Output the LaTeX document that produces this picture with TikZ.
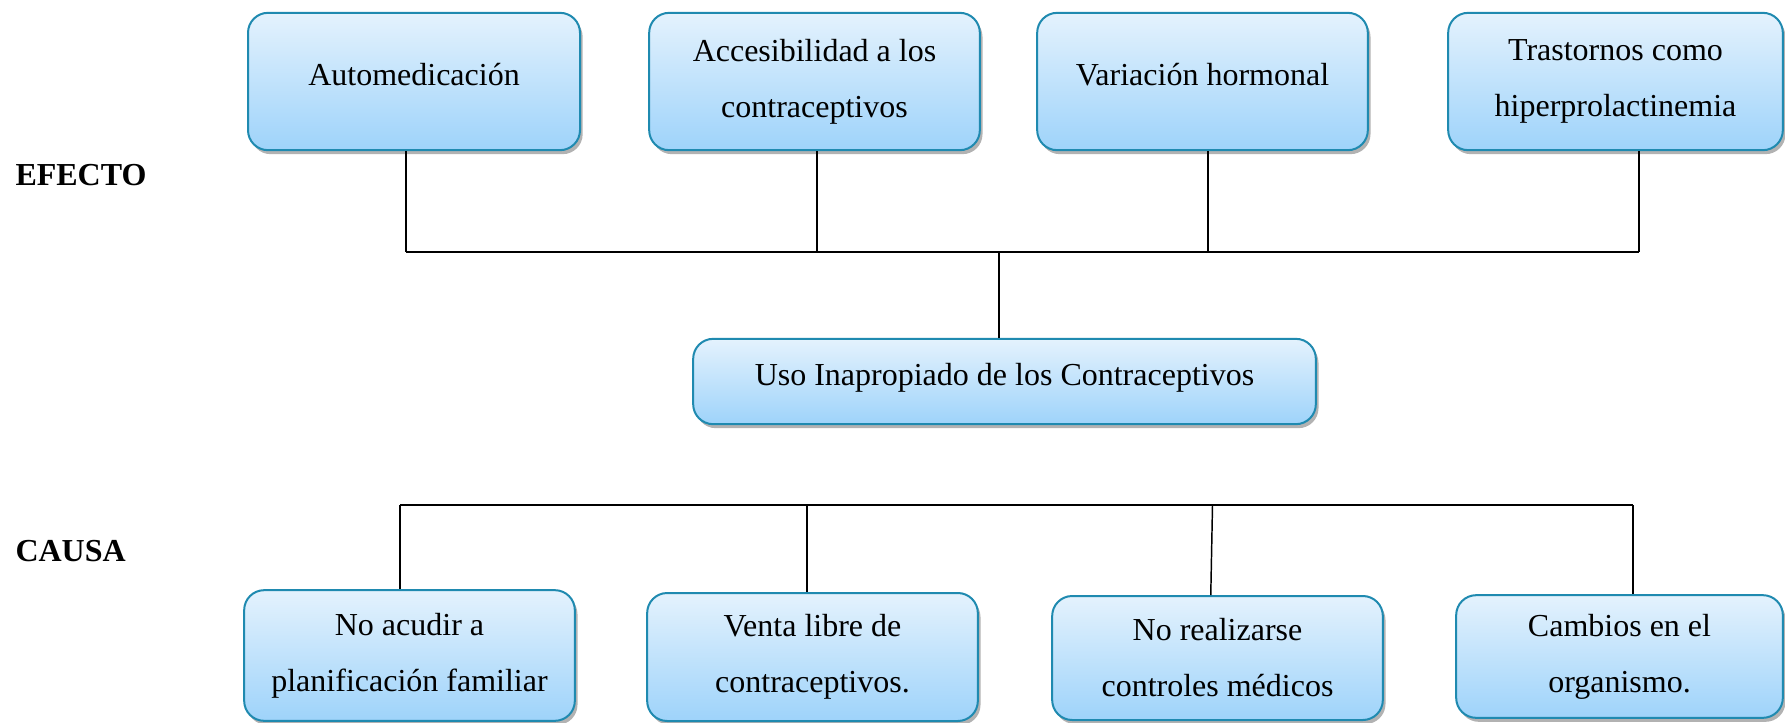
\documentclass[tikz,border=0pt]{standalone}
\usepackage{fontspec}
\setmainfont{Liberation Serif}
\usetikzlibrary{shadows}

\definecolor{boxline}{RGB}{31,138,176}
\definecolor{boxtop}{RGB}{228,242,253}
\definecolor{boxbottom}{RGB}{158,211,250}

\tikzset{every picture/.style={line width=0.75pt},
  causebox/.style={draw=boxline, line width=1.5pt, rounded corners=15pt,
    top color=boxtop, bottom color=boxbottom, align=center,
    font=\fontsize{24}{42}\selectfont, inner sep=0pt,
    drop shadow={shadow xshift=2pt, shadow yshift=-3pt, opacity=0.3, fill=black}},
  oneline/.style={text depth=11pt},
  branch/.style={line width=1.1pt},
  sidelabel/.style={anchor=base west, inner sep=0pt, font=\fontsize{24}{28}\selectfont\bfseries}}

\begin{document}
\begin{tikzpicture}[x=0.75pt,y=0.75pt,yscale=-1,xscale=1]
\useasboundingbox (0,0) rectangle (1785,722);

%Shape: Rounded Rect [efecto]
\node [causebox, oneline, minimum width=249pt, minimum height=103pt] (ef1) at (414,81.5) {Automedicación};
\node [causebox, minimum width=248pt, minimum height=103pt] (ef2) at (814.5,81.5) {Accesibilidad a los\\contraceptivos};
\node [causebox, oneline, minimum width=248pt, minimum height=103pt] (ef3) at (1202.5,81.5) {Variación hormonal};
\node [causebox, minimum width=251pt, minimum height=103pt] (ef4) at (1615.5,81.5) {Trastornos como\\hiperprolactinemia};

%Shape: Rounded Rect [problema]
\node [causebox, oneline, minimum width=467pt, minimum height=64pt] (uso) at (1004.5,381.5) {Uso Inapropiado de los Contraceptivos};

%Shape: Rounded Rect [causa]
\node [causebox, minimum width=248pt, minimum height=98pt] (ca1) at (409.5,655.5) {No acudir a\\planificación familiar};
\node [causebox, minimum width=248pt, minimum height=96pt] (ca2) at (812.5,657) {Venta libre de\\contraceptivos.};
\node [causebox, minimum width=248pt, minimum height=93pt] (ca3) at (1217.5,658) {No realizarse\\controles médicos};
\node [causebox, minimum width=245pt, minimum height=92pt] (ca4) at (1619.5,656.5) {Cambios en el\\organismo.};

% Text Node
\node [sidelabel] (efecto) at (15,185) {EFECTO};
% Text Node
\node [sidelabel] (causa) at (15,561) {CAUSA};

%Straight Lines [efecto]
\coordinate (t1) at (406,252);
\coordinate (t2) at (817,252);
\coordinate (t3) at (1208,252);
\coordinate (t4) at (1639,252);
\coordinate (tc) at (999,252);
\draw [branch] (t1) -- (t4);
\draw [branch] (t1 |- ef1.south) -- (t1);
\draw [branch] (t2 |- ef2.south) -- (t2);
\draw [branch] (t3 |- ef3.south) -- (t3);
\draw [branch] (t4 |- ef4.south) -- (t4);
\draw [branch] (tc) -- (tc |- uso.north);

%Straight Lines [causa]
\coordinate (b1) at (400,505);
\coordinate (b2) at (807,505);
\coordinate (b3) at (1212.5,505);
\coordinate (b4) at (1633,505);
\draw [branch] (b1) -- (b4);
\draw [branch] (b1) -- (b1 |- ca1.north);
\draw [branch] (b2) -- (b2 |- ca2.north);
\draw [branch] (b3) -- ([xshift=-1.3pt]b3 |- ca3.north);
\draw [branch] (b4) -- (b4 |- ca4.north);

\end{tikzpicture}
\end{document}
